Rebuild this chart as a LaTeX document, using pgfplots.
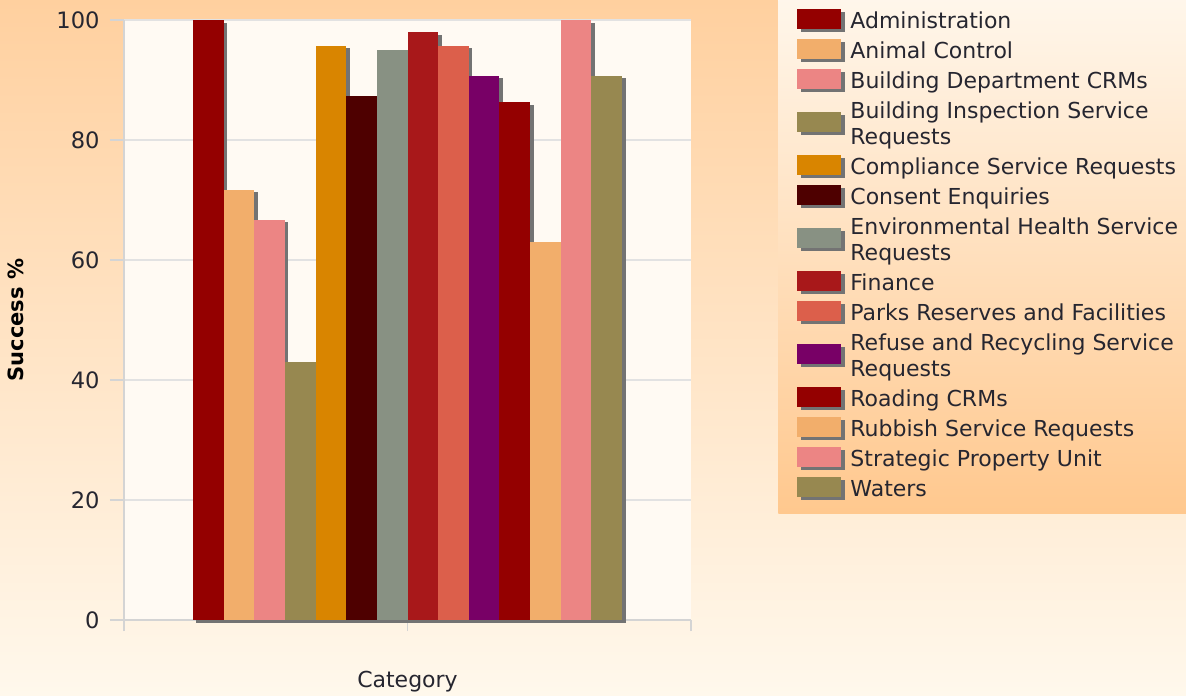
\documentclass[border=0pt]{standalone}
\usepackage{fontspec}
\setmainfont{DejaVu Sans}
\usepackage{pgfplots}
\pgfplotsset{compat=1.18}
\usetikzlibrary{shadows}
\definecolor{bgtop}{HTML}{FFD09F}
\definecolor{bgbot}{HTML}{FFF8EC}
\definecolor{legtop}{HTML}{FFF7EC}
\definecolor{legbot}{HTML}{FFC88E}
\definecolor{plotbg}{HTML}{FFFAF3}
\definecolor{axisgray}{HTML}{D4D4D4}
\definecolor{gridgray}{HTML}{E2E2E2}
\definecolor{txt}{HTML}{262630}
\definecolor{c1}{HTML}{940000}
\definecolor{c2}{HTML}{F2AE6B}
\definecolor{c3}{HTML}{EC8584}
\definecolor{c4}{HTML}{978850}
\definecolor{c5}{HTML}{D98500}
\definecolor{c6}{HTML}{4E0000}
\definecolor{c7}{HTML}{889183}
\definecolor{c8}{HTML}{A8181A}
\definecolor{c9}{HTML}{DC5F4B}
\definecolor{c10}{HTML}{780066}
\newcommand\lstrut{\rule[-2.5pt]{0pt}{13pt}}
\begin{document}
\begin{tikzpicture}
\shade[top color=bgtop, bottom color=bgbot] (0,0) rectangle (593pt,347.5pt);
\begin{axis}[
  at={(62pt,37.5pt)}, anchor=south west,
  scale only axis, width=283.5pt, height=300pt,
  xmin=-1, xmax=1, ymin=0, ymax=100,
  ybar=0pt, bar width=15.33pt,
  clip=false,
  axis background/.style={fill=plotbg},
  axis x line*=bottom, axis y line*=left,
  axis line style={-, draw=axisgray, line width=0.7pt},
  xtick={-1,0,1}, xticklabels={},
  ytick={0,20,...,100},
  tick align=outside,
  major tick length=7pt,
  tick style={draw=axisgray, line width=0.7pt},
  xtick style={/pgfplots/major tick length=5.5pt},
  ymajorgrids, grid style={draw=gridgray, line width=0.6pt},
  /pgf/number format/assume math mode=true,
  ticklabel style={font=\fontsize{11.3pt}{13pt}\selectfont, text=txt},
  yticklabel style={inner sep=0pt, xshift=-5pt},
  xlabel={Category}, ylabel={\textbf{Success \%}},
  xlabel style={at={(axis description cs:0.5,-0.103)}, anchor=center, font=\fontsize{11pt}{13pt}\selectfont, text=txt},
  ylabel style={at={(axis description cs:-0.1905,0.5)}, anchor=center, font=\fontsize{10.5pt}{13pt}\selectfont, text=black},
  legend style={at={(axis description cs:1.15344,1.045)}, anchor=north west,
    draw=none, top color=legtop, bottom color=legbot,
    inner xsep=9.5pt, inner ysep=6pt,
    font=\fontsize{11pt}{13pt}\selectfont, text=txt,
    cells={anchor=west}, nodes={inner sep=0pt, inner ysep=1pt, align=left},
    column sep=4.5pt, row sep=1pt},
  legend image code/.code={\fill[#1] (0pt,-5pt) rectangle (22pt,5pt);},
  every axis plot/.append style={draw=none, drop shadow={shadow xshift=1.8pt, shadow yshift=-1.3pt, fill=black!55, opacity=1}},
]
\addplot[fill=c1] coordinates {(0,100)};
\addlegendentry{\lstrut Administration}
\addplot[fill=c2] coordinates {(0,71.7)};
\addlegendentry{\lstrut Animal Control}
\addplot[fill=c3] coordinates {(0,66.7)};
\addlegendentry{\lstrut Building Department CRMs}
\addplot[fill=c4] coordinates {(0,43)};
\addlegendentry{\lstrut Building Inspection Service\\\lstrut Requests}
\addplot[fill=c5] coordinates {(0,95.7)};
\addlegendentry{\lstrut Compliance Service Requests}
\addplot[fill=c6] coordinates {(0,87.3)};
\addlegendentry{\lstrut Consent Enquiries}
\addplot[fill=c7] coordinates {(0,95)};
\addlegendentry{\lstrut Environmental Health Service\\\lstrut Requests}
\addplot[fill=c8] coordinates {(0,98)};
\addlegendentry{\lstrut Finance}
\addplot[fill=c9] coordinates {(0,95.7)};
\addlegendentry{\lstrut Parks Reserves and Facilities}
\addplot[fill=c10] coordinates {(0,90.7)};
\addlegendentry{\lstrut Refuse and Recycling Service\\\lstrut Requests}
\addplot[fill=c1] coordinates {(0,86.3)};
\addlegendentry{\lstrut Roading CRMs}
\addplot[fill=c2] coordinates {(0,63)};
\addlegendentry{\lstrut Rubbish Service Requests}
\addplot[fill=c3] coordinates {(0,100)};
\addlegendentry{\lstrut Strategic Property Unit}
\addplot[fill=c4] coordinates {(0,90.7)};
\addlegendentry{\lstrut Waters}
\end{axis}
\pgfresetboundingbox
\path[use as bounding box] (0,0) rectangle (593pt,347.5pt);
\end{tikzpicture}
\end{document}
